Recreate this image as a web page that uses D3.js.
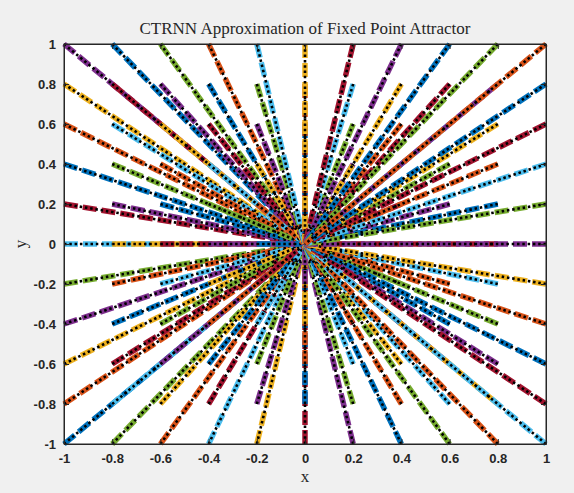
<html lang="en">
<head>
<meta charset="utf-8">
<title>CTRNN Approximation of Fixed Point Attractor</title>
<script src="https://cdn.jsdelivr.net/npm/d3@7"></script>
<style>
    body { margin: 0; background: #f0f0f0; }
    .tick text { font-family: "Liberation Sans", Arial, sans-serif; font-weight: bold; font-size: 13px; fill: #262626; }
    .axis path, .axis line { stroke: #262626; }
    .lbl { font-family: "Liberation Serif", "Times New Roman", serif; fill: #262626; }
</style>
</head>
<body>
<svg id="chart"></svg>
<script>
    // start points of the trajectories (grid over [-1,1]x[-1,1])
    var startX = [-1, -0.8, -0.6, -0.4, -0.2, 0, 0.2, 0.4, 0.6, 0.8, 1];
    var startY = [-1, -0.8, -0.6, -0.4, -0.2, 0, 0.2, 0.4, 0.6, 0.8, 1];
    // the fixed point all trajectories converge to
    var fixedPoint = [0, 0];
    var tickVals = [-1, -0.8, -0.6, -0.4, -0.2, 0, 0.2, 0.4, 0.6, 0.8, 1];
    var tickLabels = ["-1", "-0.8", "-0.6", "-0.4", "-0.2", "0", "0.2", "0.4", "0.6", "0.8", "1"];
    // matlab default color order
    var colorOrder = ["#0072BD", "#D95319", "#EDB120", "#7E2F8E", "#77AC30", "#4DBEEE", "#A2142F"];

    var W = 574, H = 493;
    var margin = {top: 44, right: 28, bottom: 49, left: 64};
    var w = W - margin.left - margin.right,
        h = H - margin.top - margin.bottom;

    var svg = d3.select("#chart").attr("width", W).attr("height", H);
    svg.append("rect").attr("width", W).attr("height", H).attr("fill", "#f0f0f0");

    var g = svg.append("g").attr("transform", "translate(" + margin.left + "," + margin.top + ")");
    g.append("rect").attr("width", w).attr("height", h).attr("fill", "#fff");

    var x = d3.scaleLinear().domain([-1, 1]).range([0, w]);
    var y = d3.scaleLinear().domain([-1, 1]).range([h, 0]);
    var fmt = function (d, i) { return tickLabels[i]; };

    var trajs = [];
    startX.forEach(function (sx) {
        startY.forEach(function (sy) {
            trajs.push([[sx, sy], fixedPoint]);
        });
    });

    var line = d3.line().x(function (d) { return x(d[0]); }).y(function (d) { return y(d[1]); });

    var lines = g.append("g");
    trajs.forEach(function (t, i) {
        lines.append("path")
            .attr("d", line(t))
            .attr("fill", "none")
            .attr("stroke", colorOrder[i % colorOrder.length])
            .attr("stroke-width", 5.5)
            .attr("stroke-dasharray", "14,5");
        lines.append("path")
            .attr("d", line(t))
            .attr("fill", "none")
            .attr("stroke", "#000")
            .attr("stroke-width", 2.6)
            .attr("stroke-dasharray", "2.5,2.8");
    });

    // axes (box on, ticks inside)
    g.append("g").attr("class", "axis")
        .attr("transform", "translate(0," + h + ")")
        .call(d3.axisBottom(x).tickValues(tickVals).tickSize(-5).tickPadding(10).tickSizeOuter(0).tickFormat(fmt))
        .selectAll("text").attr("dy", "0.71em");
    g.append("g").attr("class", "axis")
        .call(d3.axisLeft(y).tickValues(tickVals).tickSize(-5).tickPadding(8).tickSizeOuter(0).tickFormat(fmt));
    g.append("g").attr("class", "axis")
        .call(d3.axisTop(x).tickValues(tickVals).tickSize(-5).tickSizeOuter(0).tickFormat(""));
    g.append("g").attr("class", "axis")
        .attr("transform", "translate(" + w + ",0)")
        .call(d3.axisRight(y).tickValues(tickVals).tickSize(-5).tickSizeOuter(0).tickFormat(""));
    g.append("rect").attr("width", w).attr("height", h)
        .attr("fill", "none").attr("stroke", "#262626").attr("stroke-width", 1);

    svg.append("text").attr("class", "lbl")
        .attr("x", margin.left + w / 2).attr("y", 34)
        .attr("text-anchor", "middle").style("font-size", "17px")
        .text("CTRNN Approximation of Fixed Point Attractor");
    svg.append("text").attr("class", "lbl")
        .attr("x", margin.left + w / 2).attr("y", 482)
        .attr("text-anchor", "middle").style("font-size", "17px")
        .text("x");
    svg.append("text").attr("class", "lbl")
        .attr("transform", "translate(26," + (margin.top + h / 2) + ") rotate(-90)")
        .attr("text-anchor", "middle").style("font-size", "17px")
        .text("y");
</script>
</body>
</html>
